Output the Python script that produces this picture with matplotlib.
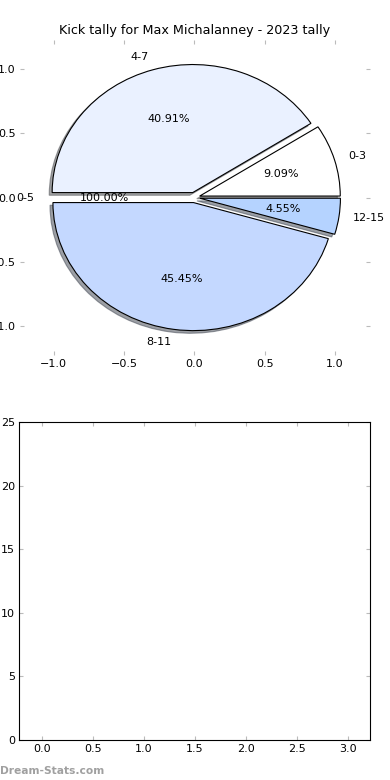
import matplotlib
matplotlib.use('Agg')
import matplotlib.pyplot as plt
from matplotlib.patches import Shadow

# kick tally data
labels = ['0-3', '4-7', '0-5', '8-11', '12-15']
kicks = [2, 9, 0, 10, 1]
colours = ['#ffffff', '#eaf1ff', '#ffffff', '#c4d8ff', '#b5d3ff']
explode = [0.04, 0.04, 0.04, 0.04, 0.04]

plt.rcParams['font.size'] = 8

fig = plt.figure(figsize=(3.9, 7.8), dpi=100)

# pie chart on top
ax1 = fig.add_axes([20 / 390, 1 - 355 / 780, 350 / 390, 315 / 780])
wedges, texts, autotexts = ax1.pie(
    kicks, labels=labels, colors=colours, explode=explode,
    autopct=lambda p: '%.2f%%' % (p if p > 0 else 100),
    shadow={'ox': -0.015, 'oy': -0.015}, startangle=0, frame=True,
    wedgeprops={'edgecolor': 'black', 'linewidth': 0.8})

# empty slice draws nothing
for w, k in zip(wedges, kicks):
    if k == 0:
        w.set_visible(False)
for p in list(ax1.patches):
    if isinstance(p, Shadow) and p.patch.get_visible() is False:
        p.remove()

ax1.set_aspect('auto')
ax1.set_xlim(-1.24, 1.25)
ax1.set_ylim(-1.23, 1.23)
ax1.set_xticks([-1.0, -0.5, 0.0, 0.5, 1.0])
ax1.set_yticks([-1.0, -0.5, 0.0, 0.5, 1.0])
for s in ax1.spines.values():
    s.set_visible(False)
ax1.tick_params(direction='in', length=3, color='#bbbbbb', pad=3,
                top=True, right=True, labelsize=8)
ax1.set_title('Kick tally for Max Michalanney - 2023 tally', fontsize=9.2, pad=4)

# empty bar axes below
ax2 = fig.add_axes([19 / 390, 1 - 740 / 780, 351 / 390, 318 / 780])
ax2.set_xlim(-0.225, 3.216)
ax2.set_ylim(0, 25)
ax2.set_xticks([0.0, 0.5, 1.0, 1.5, 2.0, 2.5, 3.0])
ax2.set_xticklabels(['0.0', '0.5', '1.0', '1.5', '2.0', '2.5', '3.0'])
ax2.tick_params(direction='in', length=3, color='#bbbbbb', pad=3,
                top=True, right=True, labelsize=8)

fig.text(0.0, 1 - 771 / 780, 'Dream-Stats.com', fontsize=7.7, fontweight='bold',
         color='#a0a0a0', va='center', ha='left')

fig.savefig('out.png', dpi=100)
